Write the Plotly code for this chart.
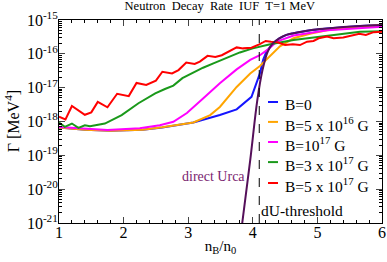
import plotly.graph_objects as go

# ---------------- data ----------------
x_B0 = [1.0, 1.4, 1.8, 2.3, 2.6, 3.08, 3.49, 3.75, 3.98, 4.11, 4.16, 4.21, 4.31, 4.41, 4.52, 4.63, 4.89, 5.15, 5.66, 6.0]
y_B0 = [6.61e-19, 5.75e-19, 5.37e-19, 5.75e-19, 6.61e-19, 9.33e-19, 1.55e-18, 2.29e-18, 5.37e-18, 2.63e-17,
        6.61e-17, 1.15e-16, 2.04e-16, 2.88e-16, 3.63e-16, 4.07e-16, 5.01e-16, 5.62e-16, 6.61e-16, 7.08e-16]

x_B5e16 = [1.0, 1.4, 1.8, 2.3, 2.6, 3.08, 3.34, 3.49, 3.75, 3.96, 4.11, 4.27, 4.42, 4.63, 4.9, 5.15, 5.66, 6.0]
y_B5e16 = [6.61e-19, 5.75e-19, 5.37e-19, 5.75e-19, 6.76e-19, 9.33e-19, 1.55e-18, 2.69e-18, 1.05e-17, 2.63e-17,
           4.37e-17, 8.91e-17, 1.66e-16, 2.88e-16, 3.98e-16, 5.01e-16, 6.46e-16, 7.08e-16]

x_B1e17 = [1.0, 1.4, 1.75, 2.25, 2.56, 2.77, 2.98, 3.23, 3.49, 3.75, 3.96, 4.11, 4.24, 4.37, 4.63, 5.15, 5.66, 6.0]
y_B1e17 = [6.92e-19, 6.03e-19, 5.62e-19, 6.31e-19, 7.76e-19, 9.77e-19, 1.78e-18, 4.79e-18, 1.35e-17, 3.47e-17,
           6.61e-17, 9.12e-17, 1.38e-16, 2.29e-16, 3.47e-16, 5.01e-16, 5.89e-16, 6.31e-16]

x_B3e17 = [1.0, 1.09, 1.2, 1.3, 1.4, 1.48, 1.71, 1.97, 2.23, 2.49, 2.64, 2.77, 2.91, 3.08, 3.23, 3.39, 3.59, 3.8,
           4.0, 4.27, 4.63, 5.15, 5.66, 6.0]
y_B3e17 = [9.33e-19, 6.92e-19, 8.71e-19, 6.46e-19, 7.76e-19, 7.24e-19, 8.71e-19, 1.55e-18, 3.47e-18, 6.76e-18,
           9.12e-18, 1.15e-17, 1.91e-17, 2.82e-17, 3.89e-17, 5.25e-17, 7.59e-17, 1.10e-16, 1.45e-16, 1.91e-16,
           2.57e-16, 3.47e-16, 4.47e-16, 4.68e-16]

x_B5e17 = [1.0, 1.1, 1.2, 1.4, 1.5, 1.6, 1.75, 1.9, 2.08, 2.2, 2.35, 2.5, 2.6, 2.75, 2.85, 2.97, 3.1, 3.18, 3.3,
           3.42, 3.52, 3.6, 3.75, 3.85, 3.98, 4.1, 4.2, 4.28, 4.38, 4.5, 4.62, 4.73, 4.84, 4.94, 5.02, 5.15, 5.25,
           5.4, 5.53, 5.65, 5.75, 5.87, 6.0]
y_B5e17 = [1.38e-18, 1.15e-18, 2.88e-18, 1.58e-18, 1.86e-18, 3.80e-18, 2.63e-18, 6.61e-18, 5.62e-18, 1.38e-17,
           1.20e-17, 1.62e-17, 2.95e-17, 2.63e-17, 3.31e-17, 5.50e-17, 5.01e-17, 5.89e-17, 8.71e-17, 8.13e-17,
           9.12e-17, 1.10e-16, 1.55e-16, 1.45e-16, 1.51e-16, 1.91e-16, 2.40e-16, 2.29e-16, 2.19e-16, 1.82e-16,
           1.91e-16, 1.82e-16, 2.29e-16, 2.40e-16, 2.88e-16, 3.24e-16, 2.88e-16, 3.02e-16, 3.47e-16, 3.89e-16,
           3.63e-16, 4.37e-16, 4.47e-16]

x_dU = [3.81, 3.96, 4.07, 4.15, 4.23, 4.31, 4.41, 4.52, 4.63, 4.89, 5.15, 5.66, 6.0]
y_dU = [3.98e-22, 7.24e-20, 4.27e-18, 3.31e-17, 1.15e-16, 2.04e-16, 2.88e-16, 3.63e-16, 4.07e-16, 5.01e-16,
        5.62e-16, 6.61e-16, 7.08e-16]

dU_threshold = 4.1

series_names = ["B=0", "B=5 x 10<sup>16</sup> G", "B=10<sup>17</sup> G",
                "B=3 x 10<sup>17</sup> G", "B=5 x 10<sup>17</sup> G"]
series_colors = ["#1515ff", "#ffa500", "#ff00ff", "#1a991a", "#ff0000"]

x_ticks = [1, 2, 3, 4, 5, 6]
y_ticks = [1e-21, 1e-20, 1e-19, 1e-18, 1e-17, 1e-16, 1e-15]
y_ticktext = ["10<sup>-21</sup>", "10<sup>-20</sup>", "10<sup>-19</sup>", "10<sup>-18</sup>",
              "10<sup>-17</sup>", "10<sup>-16</sup>", "10<sup>-15</sup>"]

# ---------------- figure ----------------
FONT = "Liberation Serif, Times New Roman, serif"
fig = go.Figure()

xs = [x_B0, x_B5e16, x_B1e17, x_B3e17, x_B5e17]
ys = [y_B0, y_B5e16, y_B1e17, y_B3e17, y_B5e17]
for xv, yv, c, n in zip(xs, ys, series_colors, series_names):
    fig.add_trace(go.Scatter(x=xv, y=yv, mode="lines", name=n, line=dict(color=c, width=2),
                             showlegend=False, hoverinfo="skip"))

fig.add_trace(go.Scatter(x=x_dU, y=y_dU, mode="lines", name="direct Urca",
                         line=dict(color="#55105a", width=2, shape="spline"),
                         showlegend=False, hoverinfo="skip"))

# legend drawn as short line + label rows (paper coordinates of the legend box)
legend_rows = [0.596, 0.498, 0.399, 0.300, 0.197]
legend_line_x = (0.647, 0.678)
legend_text_x = 0.692
for name, c, ry in zip(series_names, series_colors, legend_rows):
    fig.add_shape(type="line", xref="paper", yref="paper", x0=legend_line_x[0], x1=legend_line_x[1],
                  y0=ry, y1=ry, line=dict(color=c, width=2))
    fig.add_annotation(x=legend_text_x, y=ry, xref="paper", yref="paper", text=name, showarrow=False,
                       xanchor="left", yanchor="middle", yshift=-2,
                       font=dict(family=FONT, size=15.5, color="black"))

fig.add_vline(x=dU_threshold, line=dict(color="black", width=1, dash="dash"))

fig.add_annotation(x=dU_threshold, y=-20.62, xref="x", yref="y", text="dU-threshold", showarrow=False,
                   xanchor="left", yanchor="middle", xshift=0, font=dict(family=FONT, size=15.5, color="black"))
fig.add_annotation(x=3.91, y=-19.64, xref="x", yref="y", text="direct Urca", showarrow=False,
                   xanchor="right", yanchor="middle", font=dict(family=FONT, size=14, color="#7a2570"))
# y-axis title
fig.add_annotation(x=-0.146, y=0.5, xref="paper", yref="paper", text="Γ [MeV<sup>4</sup>]", showarrow=False,
                   textangle=-90, xanchor="center", yanchor="middle",
                   font=dict(family=FONT, size=16, color="black"))

minor_y = [m * 10.0 ** e for e in range(-21, -15) for m in range(2, 10)]

fig.update_xaxes(range=[1, 6], tickvals=x_ticks, ticks="inside", ticklen=6, tickwidth=1, automargin=False,
                 showline=True, linecolor="black", linewidth=1, mirror="ticks", showgrid=False, zeroline=False,
                 tickfont=dict(family=FONT, size=16, color="black"), ticklabelstandoff=-5,
                 minor=dict(dtick=0.2, ticks="inside", ticklen=3, tickcolor="black", showgrid=False),
                 title=dict(text="n<sub>B</sub>/n<sub>0</sub>", font=dict(family=FONT, size=15, color="black"),
                            standoff=0))
fig.update_yaxes(type="log", range=[-21, -15], tickvals=y_ticks, ticktext=y_ticktext, ticks="inside",
                 ticklen=6, tickwidth=1, showline=True, linecolor="black", linewidth=1, mirror="ticks",
                 automargin=False, ticklabelstandoff=-3,
                 showgrid=False, zeroline=False, tickfont=dict(family=FONT, size=16, color="black"),
                 minor=dict(tickvals=minor_y, ticks="inside", ticklen=3, tickcolor="black", showgrid=False))

fig.update_layout(
    width=387, height=262,
    margin=dict(l=59, r=5, t=20, b=39),
    paper_bgcolor="white", plot_bgcolor="white",
    title=dict(text="Neutron  Decay  Rate  IUF  T=1 MeV", x=0.568, xanchor="center", y=0.995, yanchor="top",
               font=dict(family=FONT, size=12.5, color="black")),
    showlegend=False,
)

fig.write_html("out.html", config={"displayModeBar": False},
               post_script="document.body.style.margin='0';document.body.style.padding='0';")
